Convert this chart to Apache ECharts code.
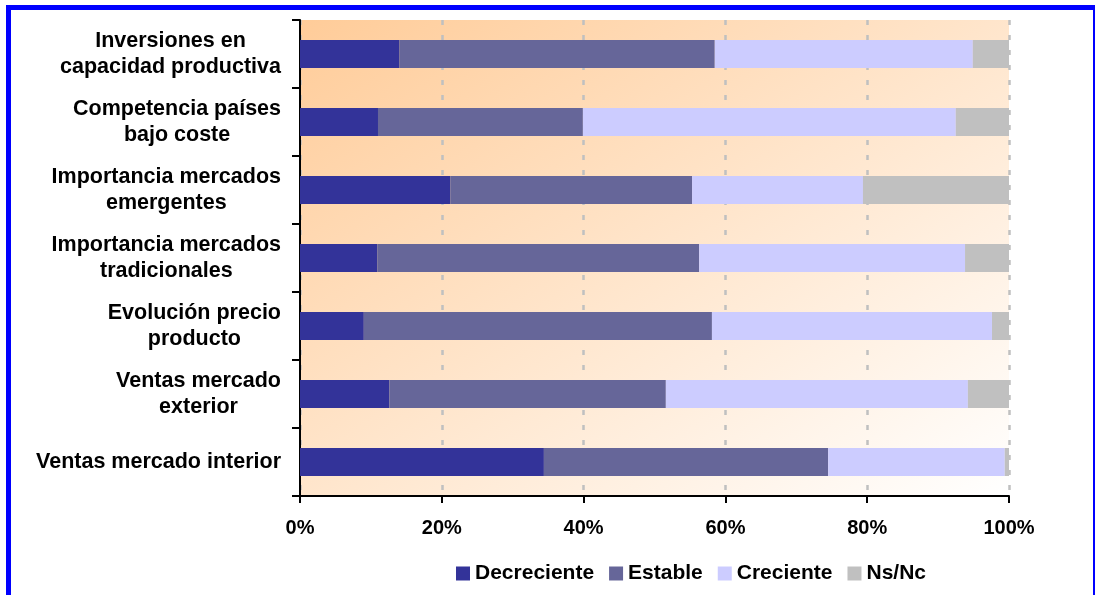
<!DOCTYPE html>
<html>
<head>
<meta charset="utf-8">
<script src="https://cdn.jsdelivr.net/npm/echarts@6/dist/echarts.min.js"></script>
<style>
html,body{margin:0;padding:0;background:#fff;}
#chart{width:1095px;height:595px;}
</style>
</head>
<body>
<div id="chart"></div>
<script>
const categories = [
  "Inversiones en\ncapacidad productiva",
  "Competencia países\nbajo coste",
  "Importancia mercados\nemergentes",
  "Importancia mercados\ntradicionales",
  "Evolución precio\nproducto",
  "Ventas mercado\nexterior",
  "Ventas mercado interior"
];
const seriesNames = ["Decreciente", "Estable", "Creciente", "Ns/Nc"];
const decreciente = [14.0, 11.0, 21.2, 10.9, 9.0, 12.6, 34.4];
const estable     = [44.5, 28.9, 34.1, 45.4, 49.1, 39.0, 40.1];
const creciente   = [36.4, 52.6, 24.1, 37.5, 39.5, 42.6, 24.9];
const nsnc        = [5.1, 7.5, 20.6, 6.2, 2.4, 5.8, 0.6];
const xTicks = [0, 20, 40, 60, 80, 100];

const colors = ["#333399", "#666699", "#CCCCFF", "#C0C0C0"];
const values = [decreciente, estable, creciente, nsnc];
const FONT = "'Liberation Sans', Arial, sans-serif";

const chart = echarts.init(document.getElementById('chart'), null, {renderer: 'canvas'});
chart.setOption({
  animation: false,
  backgroundColor: '#ffffff',
  textStyle: {fontFamily: FONT},
  grid: {
    left: 300, top: 20, width: 709, height: 476,
    show: true, borderWidth: 0,
    backgroundColor: {
      type: 'linear', x: 0, y: 0, x2: 0.621, y2: 1.379,
      colorStops: [{offset: 0, color: '#FFCC99'}, {offset: 1, color: '#FFFFFF'}]
    }
  },
  legend: {
    left: 456, top: 563, padding: 0,
    itemWidth: 14, itemHeight: 14, itemGap: 15,
    icon: 'rect',
    data: seriesNames,
    textStyle: {fontSize: 21, fontWeight: 'bold', color: '#000', fontFamily: FONT}
  },
  xAxis: {
    type: 'value', min: xTicks[0], max: xTicks[xTicks.length - 1], interval: 20,
    axisLine: {show: true, lineStyle: {color: '#000', width: 2}},
    axisTick: {show: true, length: 7, lineStyle: {color: '#000', width: 2}},
    axisLabel: {formatter: '{value}%', fontSize: 20, fontWeight: 'bold', color: '#000', margin: 22, fontFamily: FONT},
    splitLine: {show: true, lineStyle: {color: '#C0C0C0', width: 2.5, type: [5, 10]}}
  },
  yAxis: {
    type: 'category', inverse: true, data: categories,
    axisLine: {show: true, lineStyle: {color: '#000', width: 2}},
    axisTick: {show: true, length: 8, lineStyle: {color: '#000', width: 2}},
    axisLabel: {
      margin: 19, align: 'right',
      formatter: function (v) { return v.split('\n').map(l => '{c|' + l + '}').join('\n'); },
      rich: {c: {align: 'center', fontSize: 21.5, fontWeight: 'bold', color: '#000', lineHeight: 26, fontFamily: FONT}}
    },
    splitLine: {show: false}
  },
  series: seriesNames.map((n, i) => ({
    name: n, type: 'bar', stack: 'total', barWidth: 28,
    data: values[i],
    itemStyle: {color: colors[i]},
    emphasis: {disabled: true}
  })),
  graphic: [
    {type: 'rect', shape: {x: 6, y: 5, width: 1089, height: 5}, style: {fill: '#0000FF'}, z: 100},
    {type: 'rect', shape: {x: 6, y: 5, width: 5, height: 590}, style: {fill: '#0000FF'}, z: 100},
    {type: 'rect', shape: {x: 1093, y: 5, width: 2, height: 590}, style: {fill: '#0000FF'}, z: 100}
  ]
});
</script>
</body>
</html>
